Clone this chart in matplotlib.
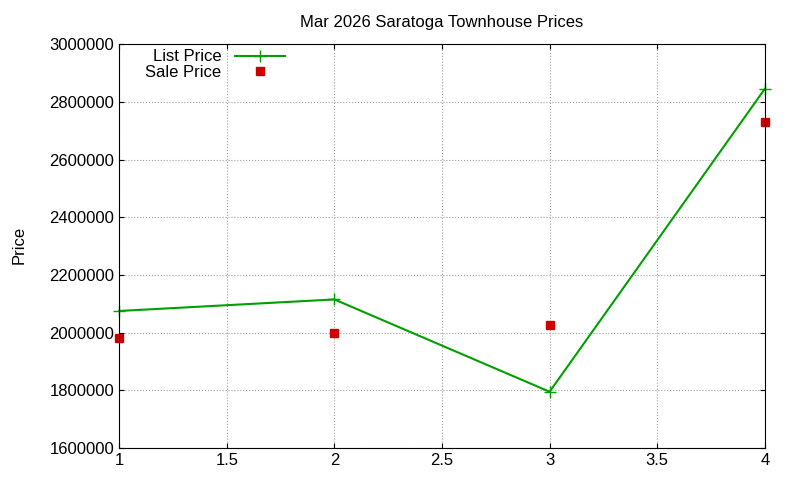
import matplotlib
matplotlib.use("Agg")
import matplotlib.pyplot as plt

x = [1, 2, 3, 4]
list_price = [2075000, 2115000, 1795000, 2845000]
sale_price = [1980000, 2000000, 2025000, 2730000]
title = "Mar 2026 Saratoga Townhouse Prices"

plt.rcParams['font.family'] = ['Liberation Sans', 'DejaVu Sans']
fig = plt.figure(figsize=(8, 4.8), dpi=100)
ax = fig.add_axes([0.149, 0.0667, 0.807, 0.8413])
ax.plot(x, list_price, color='#00a000', marker='+', markersize=8, linewidth=1.5,
        label='List Price', clip_on=False)
ax.plot(x, sale_price, color='#cc0000', marker='s', markersize=6, linestyle='none',
        label='Sale Price', clip_on=False)
ax.set_xlim(1, 4)
ax.set_ylim(1600000, 3000000)
ax.set_xticks([1, 1.5, 2, 2.5, 3, 3.5, 4])
ax.set_xticklabels(['1', '1.5', '2', '2.5', '3', '3.5', '4'])
ax.set_yticks(range(1600000, 3000001, 200000))
ax.set_yticklabels([str(v) for v in range(1600000, 3000001, 200000)])
ax.grid(True, color='#a0a0a0', linestyle=':', linewidth=0.8)
ax.tick_params(direction='in', labelsize=12, top=True, right=True)
fig.text(0.015, 0.49, 'Price', rotation=90, fontsize=12, va='center', ha='left')
ax.set_title(title, fontsize=12, pad=12)
ax.legend(loc='upper left', markerfirst=False, frameon=False, fontsize=12,
          bbox_to_anchor=(0.02, 1.02), handlelength=3, borderpad=0.3, labelspacing=0.05)
fig.savefig('out.png', dpi=100)
